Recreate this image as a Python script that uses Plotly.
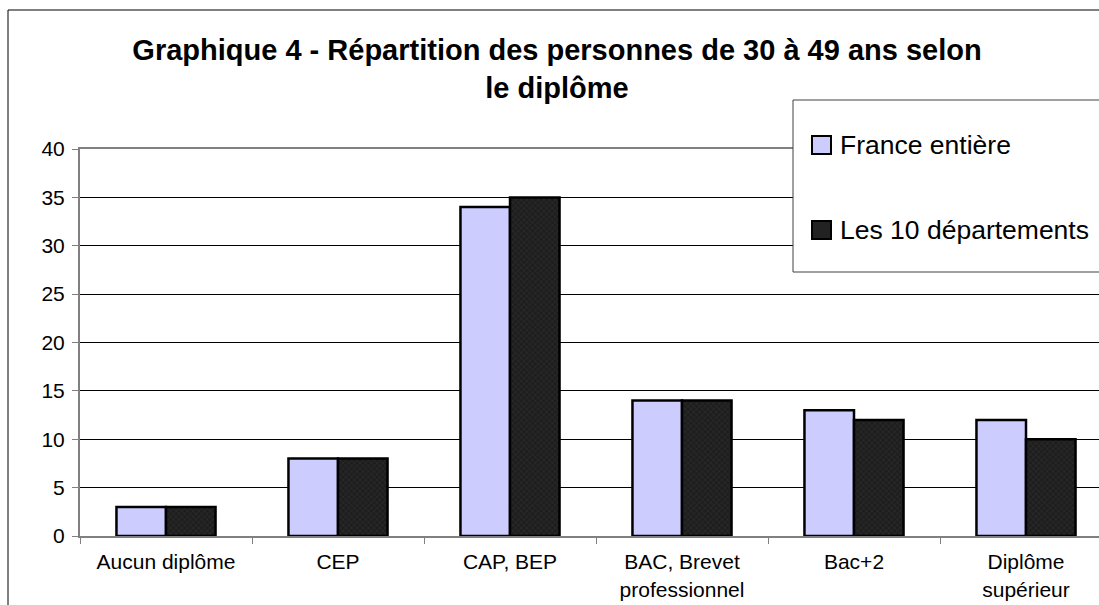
import plotly.graph_objects as go

categories = ["Aucun diplôme", "CEP", "CAP, BEP", "BAC, Brevet<br>professionnel", "Bac+2", "Diplôme<br>supérieur"]
france_entiere = [3, 8, 34, 14, 13, 12]
les_10_departements = [3, 8, 35, 14, 12, 10]
series_names = ["France entière", "Les 10 départements"]
y_ticks = [0, 5, 10, 15, 20, 25, 30, 35, 40]
title_text = "Graphique 4 - Répartition des personnes de 30 à 49 ans selon<br>le diplôme"

W, H = 1099, 605
L, T, B = 80, 149, 536  # plot area pixel bounds
PW = W - L
PH = B - T
FONT = "Liberation Sans, Arial, sans-serif"
LIGHT = "#CCCCFF"
DARK = "#222222"


def px_x(x):
    return (x - L) / PW


def px_y(y):
    return (B - y) / PH


fig = go.Figure()
fig.add_trace(go.Bar(
    x=categories, y=france_entiere, name=series_names[0],
    marker=dict(color=LIGHT, line=dict(color="black", width=2.5)),
))
fig.add_trace(go.Bar(
    x=categories, y=les_10_departements, name=series_names[1],
    marker=dict(color=DARK, line=dict(color="black", width=2.5),
                pattern=dict(shape="x", bgcolor="#1e1e1e", fgcolor="#3c3c3c", size=4, solidity=0.3)),
))

cat_w = PW / 172.0
fig.update_layout(
    width=W, height=H,
    margin=dict(l=L, r=0, t=T, b=H - B, pad=0, autoexpand=False),
    paper_bgcolor="white", plot_bgcolor="white",
    barmode="group", bargap=0.424, bargroupgap=0,
    showlegend=False,
    font=dict(family=FONT, size=21, color="black"),
    title=dict(text="<b>" + title_text + "</b>", x=557 / W, xanchor="center",
               y=1 - 60 / H, yanchor="top", yref="container", automargin=False,
               font=dict(family=FONT, size=29, color="black")),
    xaxis=dict(
        range=[-0.5, -0.5 + cat_w], showline=True, linecolor="#808080", linewidth=2,
        mirror=True, ticks="outside", tickson="boundaries", ticklen=6, automargin=False,
        tickcolor="#808080", tickwidth=1, showgrid=False, ticklabelstandoff=6,
        tickfont=dict(family=FONT, size=21, color="black"),
    ),
    yaxis=dict(
        range=[0, 40], tickvals=y_ticks, showline=True, linecolor="#808080", linewidth=2,
        ticks="outside", ticklen=6, tickcolor="#808080", tickwidth=1, ticklabelstandoff=3,
        showgrid=True, gridcolor="black", gridwidth=1, zeroline=False, automargin=False,
        tickfont=dict(family=FONT, size=21, color="black"),
    ),
)

shapes = []
# outer chart border
shapes.append(dict(type="rect", xref="paper", yref="paper",
                   x0=px_x(8), x1=px_x(W + 20), y0=px_y(H + 20), y1=px_y(10),
                   line=dict(color="black", width=1), fillcolor="rgba(0,0,0,0)", layer="above"))
# legend box
shapes.append(dict(type="rect", xref="paper", yref="paper",
                   x0=px_x(793), x1=px_x(W + 20), y0=px_y(272), y1=px_y(100),
                   line=dict(color="#404040", width=1), fillcolor="white", layer="above"))
# legend swatches
shapes.append(dict(type="rect", xref="paper", yref="paper",
                   x0=px_x(812), x1=px_x(831), y0=px_y(154), y1=px_y(136),
                   line=dict(color="black", width=2), fillcolor=LIGHT, layer="above"))
shapes.append(dict(type="rect", xref="paper", yref="paper",
                   x0=px_x(812), x1=px_x(831), y0=px_y(239), y1=px_y(221),
                   line=dict(color="black", width=2), fillcolor=DARK, layer="above"))
fig.update_layout(shapes=shapes)

annotations = []
for name, yc in zip(series_names, [145, 230]):
    annotations.append(dict(xref="paper", yref="paper", x=px_x(838), y=px_y(yc),
                            xanchor="left", yanchor="middle", text=name, showarrow=False,
                            font=dict(family=FONT, size=26.5, color="black")))
fig.update_layout(annotations=annotations)

fig.write_html("out.html", config={"displayModeBar": False},
               post_script="document.body.style.margin='0';")
